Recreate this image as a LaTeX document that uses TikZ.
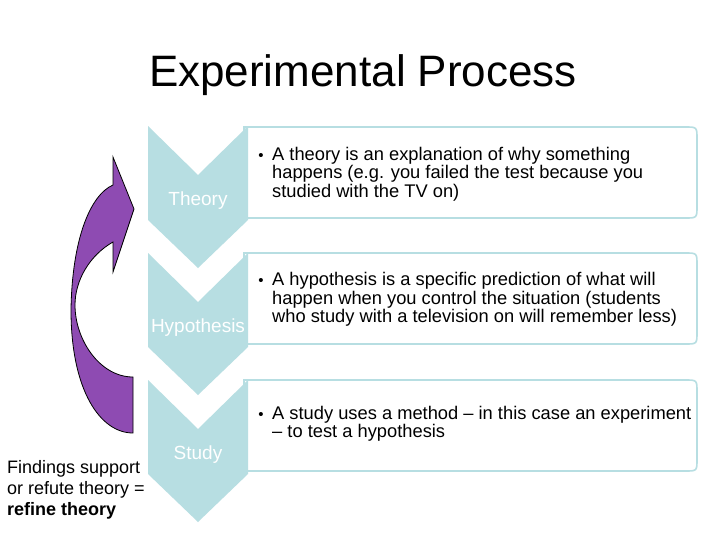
\documentclass[tikz,border=0pt]{standalone}
\usepackage{fontspec}
\setmainfont{Liberation Sans}
\definecolor{chevblue}{RGB}{183,222,226}
\definecolor{arrowpurple}{RGB}{142,75,178}
\newcommand{\bulletmark}{\llap{\fontsize{15}{15}\selectfont•\hspace{8.5pt}}}
\begin{document}
\begin{tikzpicture}[x=1pt,y=-1pt,
  chev/.style={fill=chevblue,draw=none},
  infobox/.style={draw=chevblue,line width=1.6pt,fill=white},
  chevlabel/.style={text=white,font=\fontsize{19}{21}\selectfont,inner sep=0pt,anchor=base},
  bullettext/.style={font=\fontsize{18.3}{18.5}\selectfont,inner sep=0pt,anchor=base west,align=left},
  sidetext/.style={font=\fontsize{18}{21}\selectfont,inner sep=0pt,anchor=base west,align=left}]
\useasboundingbox (0,0) rectangle (728,546);
\fill[white] (0,0) rectangle (728,546);

% title
\node[inner sep=0pt,anchor=base,font=\fontsize{44}{50}\selectfont] (title) at (363,86) {Experimental Process};

% boxes
\foreach \T in {127,253,380}{
  \draw[infobox] (244,\T) -- (685,\T) .. controls (697,\T) .. (697,\T+12)
     -- (697,\T+79) .. controls (697,\T+91) .. (685,\T+91) -- (244,\T+91) -- cycle;
}
% chevrons
\foreach \T in {126,253,380}{
  \fill[chev] (148,\T) -- (198,\T+49) -- (248,\T) -- (248,\T+94) -- (198,\T+142) -- (148,\T+94) -- cycle;
}

\node[chevlabel] (theory) at (198,205) {Theory};
\node[chevlabel] (hypothesis) at (198,332) {Hypothesis};
\node[chevlabel] (study) at (198,459) {Study};

% multi-line nodes: base anchor is the baseline of the last line
\node[bullettext] (t1) at (272,197) {\bulletmark A theory is an explanation of why something\\happens (e.g. you failed the test because you\\studied with the TV on)};
\node[bullettext] (t2) at (272,322.5) {\bulletmark A hypothesis is a specific prediction of what will\\happen when you control the situation (students\\who study with a television on will remember less)};
\node[bullettext] (t3) at (272,437.5) {\bulletmark A study uses a method – in this case an experiment\\– to test a hypothesis};

% curved arrow
\filldraw[fill=arrowpurple,draw=black,line width=0.8pt]
  (113,185) -- (113,157) -- (134,209) -- (113,272) -- (113,242)
  .. controls (90,255) and (75,280) .. (75,305)
  .. controls (75,340) and (100,377) .. (133,377)
  -- (133,433)
  .. controls (100,433) and (71,390) .. (71,310)
  .. controls (72,240) and (90,195) .. (113,185) -- cycle;

\node[sidetext] (find) at (7,515.5) {Findings support\\or refute theory =\\\textbf{refine theory}};
\end{tikzpicture}
\end{document}
